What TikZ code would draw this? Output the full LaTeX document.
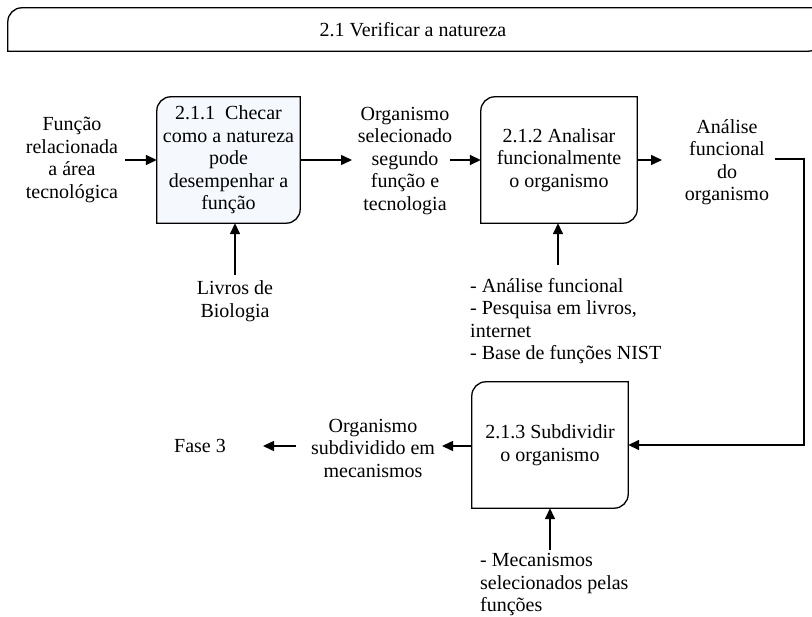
\documentclass[tikz,border=0pt]{standalone}
\usepackage{fontspec}
\setmainfont{Liberation Serif}
\usetikzlibrary{arrows.meta}
\definecolor{glow}{RGB}{245,249,253}
\tikzset{
  x=1pt,y=-1pt,
  every node/.style={font=\fontsize{20}{22.5}\selectfont, inner sep=0pt},
  boxline/.style={line width=1.3pt},
  procbox/.style={draw=none, minimum height=126pt, align=center},
  lbl/.style={align=center},
  lbll/.style={align=left},
  flow/.style={line width=1.5pt, -{Triangle[length=11pt,width=10pt]}},
}
\newcommand{\procoutline}[2][]{%
  \draw[boxline,#1] (#2.west) [rounded corners=14pt] |- (#2.north) [sharp corners] -| (#2.east)
     [rounded corners=14pt] |- (#2.south) [sharp corners] -| (#2.west) -- cycle;}
\begin{document}
\begin{tikzpicture}
\useasboundingbox (0,0) rectangle (812,617);
% header
\node[draw=none, minimum width=814pt, minimum height=43pt] (hdr) at (415,29.5) {};
\procoutline{hdr}
\node (hdrt) at (413,30) {2.1 Verificar a natureza};

% process boxes
\node[procbox, minimum width=143pt] (b1) at (228.5,160) {};
\procoutline[fill=glow]{b1}
\node[align=center] (b1t) at (b1.center) {2.1.1\ \ Checar\\como a natureza\\pode\\desempenhar a\\função};
\node[procbox, minimum width=156pt] (b2) at (559,160) {2.1.2 Analisar\\funcionalmente\\o organismo};
\procoutline{b2}
\node[procbox, minimum width=156pt] (b3) at (550,445) {2.1.3 Subdividir\\o organismo};
\procoutline{b3}

% labels
\node[lbl] (tin) at (72,160) {Função\\relacionada\\a área\\tecnológica};
\node[lbl] (torg) at (405,161) {Organismo\\selecionado\\segundo\\função e\\tecnologia};
\node[lbl] (tan) at (727,162) {Análise\\funcional\\do\\organismo};
\node[lbl] (tliv) at (235,301) {Livros de\\Biologia};
\node[lbll, anchor=west] (tlist) at (470,321) {- Análise funcional\\- Pesquisa em livros,\\internet\\- Base de funções NIST};
\node[lbl] (tsub) at (373,448) {Organismo\\subdividido em\\mecanismos};
\node (tfase) at (200,446) {Fase 3};
\node[lbll, anchor=west] (tmec) at (480,585) {- Mecanismos\\selecionados pelas\\funções};

% connector endpoints
\coordinate (c1) at (125,160);
\coordinate (c2) at (352,160);
\coordinate (c3) at (450,160);
\coordinate (c4) at (662,160);
\coordinate (c5) at (775,159);
\coordinate (c6) at (804,445);
\coordinate (c7) at (235,275);
\coordinate (c8) at (558,265);
\coordinate (c9) at (442,446);
\coordinate (c10) at (296,446);
\coordinate (c11) at (263,446);
\coordinate (c12) at (550,550);

% connectors
\draw[flow] (c1) -- (b1.west);
\draw[flow] (b1.east) -- (c2);
\draw[flow] (c3) -- (b2.west);
\draw[flow] (b2.east) -- (c4);
\draw[flow] (c5) -| (c6) -- (b3.east);
\draw[flow] (c7) -- (c7 |- b1.south);
\draw[flow] (c8) -- (c8 |- b2.south);
\draw[flow] (b3.west |- c9) -- (c9);
\draw[flow] (c10) -- (c11);
\draw[flow] (c12) -- (c12 |- b3.south);
\end{tikzpicture}
\end{document}
